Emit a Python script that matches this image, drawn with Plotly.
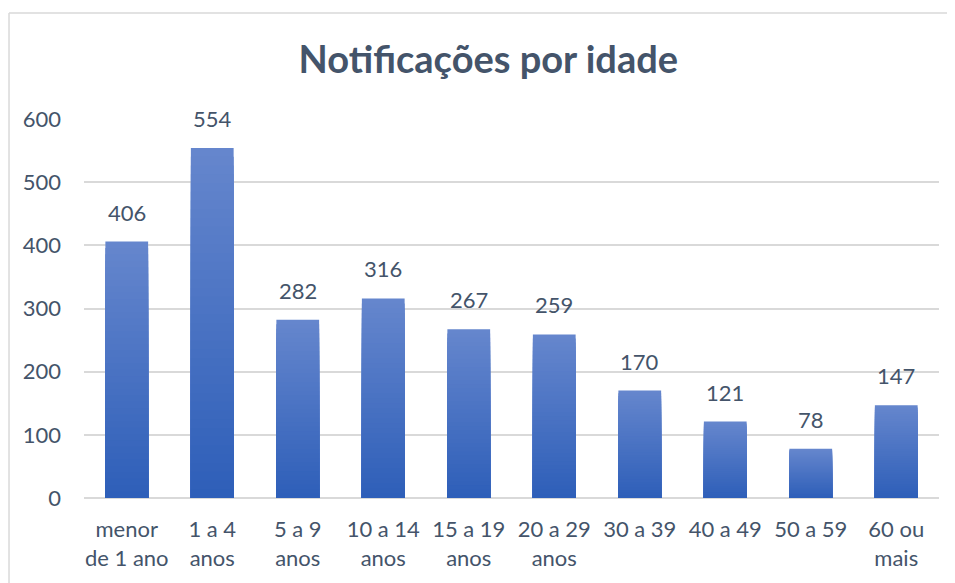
import plotly.graph_objects as go

categories = ["menor<br>de 1 ano", "1 a 4<br>anos", "5 a 9<br>anos", "10 a 14<br>anos", "15 a 19<br>anos",
              "20 a 29<br>anos", "30 a 39", "40 a 49", "50 a 59", "60 ou<br>mais"]
values = [406, 554, 282, 316, 267, 259, 170, 121, 78, 147]
y_ticks = [0, 100, 200, 300, 400, 500, 600]
title_text = "Notificações por idade"

FONT = "Lato"
TXT = "#44546A"
top_c = (101, 134, 205)
bot_c = (45, 94, 184)
N = 40

fig = go.Figure()
for k in range(N):
    f = k / N
    c = tuple(round(top_c[i] + (bot_c[i] - top_c[i]) * f) for i in range(3))
    fig.add_trace(go.Bar(
        x=categories, y=[v * (1 - f) for v in values],
        marker=dict(color="rgb(%d,%d,%d)" % c, line=dict(width=0)),
        width=0.5, hoverinfo="skip", showlegend=False))

for cat, v in zip(categories, values):
    fig.add_annotation(x=cat, y=v, text=str(v), showarrow=False, yanchor="bottom",
                       yshift=14, font=dict(family=FONT, size=22, color=TXT))

fig.update_layout(
    barmode="overlay",
    width=955, height=583,
    margin=dict(l=76, r=24, t=111, b=93),
    paper_bgcolor="white", plot_bgcolor="white",
    title=dict(text="<b>" + title_text + "</b>", x=0.503, xanchor="center", y=0.911, yanchor="middle",
               font=dict(family=FONT, size=38, color=TXT)),
    xaxis=dict(tickfont=dict(family=FONT, size=22, color=TXT), showgrid=False, showline=False,
               ticks="", ticklabelstandoff=16),
    yaxis=dict(range=[0, 600], tickvals=y_ticks, tickfont=dict(family=FONT, size=22, color=TXT),
               gridcolor="#D9D9D9", gridwidth=1.5, zeroline=True, zerolinecolor="#D9D9D9",
               zerolinewidth=1.5, ticks="", ticklabelstandoff=22, showline=False),
    shapes=[
        dict(type="line", xref="paper", yref="paper", x0=-0.0877, x1=1.1, y0=1.2797, y1=1.2797,
             line=dict(color="#D9D9D9", width=1.5)),
        dict(type="line", xref="paper", yref="paper", x0=-0.0877, x1=-0.0877, y0=1.2797, y1=-0.3,
             line=dict(color="#D9D9D9", width=1.5)),
    ],
)

fig.write_html("out.html")
